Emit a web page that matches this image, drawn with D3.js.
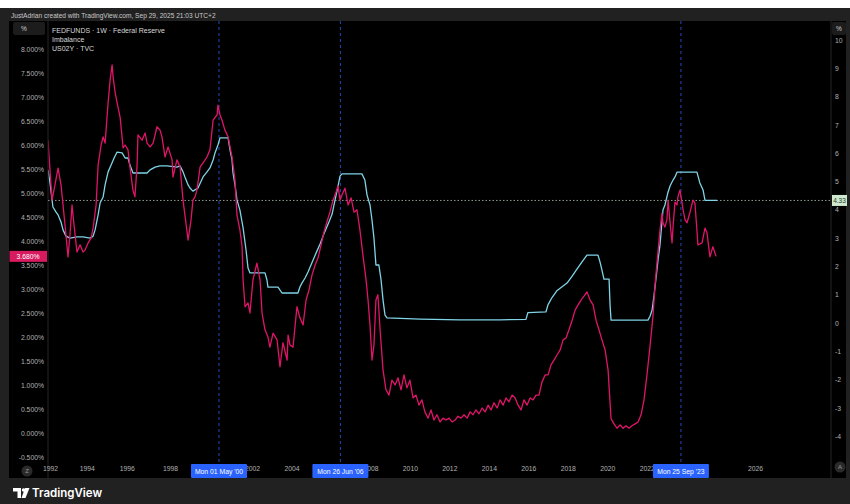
<!DOCTYPE html>
<html><head><meta charset="utf-8">
<script src="https://cdn.jsdelivr.net/npm/d3@7"></script>
<style>body{margin:0;background:#fff;} svg{display:block;font-family:"Liberation Sans",Arial,sans-serif;}</style>
</head><body><svg id="c" width="850" height="504"></svg>
<script>
// ---- data (decimal years, percent) ----
const us02yYears = [1991.89,1992.00,1992.11,1992.27,1992.44,1992.60,1992.71,1992.87,1992.98,1993.09,1993.20,1993.31,1993.47,1993.64,1993.80,1993.91,
1994.07,1994.22,1994.32,1994.47,1994.57,1994.72,1994.82,1994.92,1995.07,1995.17,1995.27,1995.32,1995.42,1995.52,1995.67,1995.82,1995.92,
1996.06,1996.15,1996.29,1996.38,1996.48,1996.52,1996.71,1996.85,1996.94,1997.08,1997.22,1997.40,1997.54,1997.63,1997.77,1997.91,
1998.10,1998.14,1998.33,1998.48,1998.62,1998.71,1998.86,1999.00,1999.09,1999.19,1999.28,1999.43,1999.57,1999.76,1999.90,
2000.05,2000.24,2000.28,2000.38,2000.48,2000.63,2000.79,2000.99,2001.14,2001.24,2001.39,2001.50,2001.55,2001.65,2001.80,2001.90,
2002.05,2002.25,2002.41,2002.51,2002.66,2002.81,2002.91,2003.07,2003.27,2003.42,2003.57,2003.78,2003.83,2003.93,
2004.08,2004.28,2004.43,2004.59,2004.74,2004.89,2005.04,2005.20,2005.35,2005.50,2005.65,2005.80,2005.95,
2006.11,2006.26,2006.36,2006.46,2006.56,2006.71,2006.87,2007.02,2007.17,2007.32,2007.47,2007.62,2007.78,2007.88,2007.98,
2008.08,2008.18,2008.28,2008.38,2008.49,2008.64,2008.79,2008.94,2009.09,2009.25,2009.40,2009.55,2009.70,2009.85,
2010.00,2010.16,2010.31,2010.46,2010.61,2010.76,2010.92,2011.07,2011.22,2011.37,2011.53,2011.68,2011.83,2011.98,
2012.14,2012.29,2012.44,2012.59,2012.74,2012.90,2013.05,2013.20,2013.35,2013.50,2013.66,2013.81,2013.96,
2014.11,2014.26,2014.42,2014.57,2014.72,2014.87,2015.02,2015.18,2015.33,2015.48,2015.63,2015.78,2015.93,
2016.09,2016.24,2016.39,2016.54,2016.69,2016.85,2017.00,2017.15,2017.30,2017.46,2017.61,2017.76,2017.91,
2018.06,2018.22,2018.37,2018.52,2018.67,2018.82,2018.97,2019.13,2019.28,2019.43,2019.58,2019.73,2019.89,
2020.04,2020.19,2020.34,2020.49,2020.65,2020.80,2020.95,2021.10,2021.25,2021.41,2021.56,2021.71,2021.86,
2022.01,2022.17,2022.32,2022.42,2022.52,2022.67,2022.77,2022.82,2022.92,2023.02,2023.08,2023.18,2023.28,2023.33,2023.43,2023.53,2023.58,2023.68,2023.79,2023.84,2023.94,
2024.04,2024.19,2024.34,2024.44,2024.54,2024.59,2024.80,2024.95,2025.05,2025.20,2025.35,2025.51];
const us02yValues = [6.10,5.48,4.85,5.17,5.52,5.17,4.75,4.13,3.67,4.13,4.75,4.33,3.77,3.92,3.77,3.81,
3.96,4.06,4.27,4.75,5.58,6.00,6.17,6.04,6.88,7.35,7.67,7.42,7.10,6.88,6.58,5.94,6.00,
5.90,5.54,5.06,4.92,5.58,6.21,6.10,6.25,6.04,5.96,6.04,6.38,6.31,6.17,5.75,5.96,
5.69,5.33,5.69,5.54,4.85,4.54,4.02,4.44,4.85,4.92,5.06,5.54,5.63,5.75,5.90,
6.52,6.63,6.83,6.63,6.52,6.31,6.17,5.75,5.27,4.54,4.23,3.88,3.19,2.63,2.71,2.50,
3.19,3.54,3.19,2.50,2.15,2.00,1.79,2.08,1.94,1.38,1.88,1.52,2.04,1.83,
1.79,2.63,2.40,2.25,2.77,2.98,3.29,3.50,3.65,3.92,4.19,4.40,4.60,
4.85,5.02,5.15,4.85,4.96,5.10,4.75,4.90,4.60,4.65,4.23,3.71,3.19,2.77,2.25,
1.52,1.83,2.77,2.88,2.15,1.31,0.90,0.79,1.10,1.00,1.15,0.90,1.21,0.94,
1.10,0.73,0.79,0.58,0.69,0.44,0.31,0.48,0.27,0.38,0.23,0.31,0.27,0.31,
0.23,0.27,0.35,0.31,0.38,0.31,0.44,0.38,0.48,0.40,0.52,0.44,0.58,
0.48,0.63,0.52,0.69,0.58,0.73,0.65,0.79,0.73,0.58,0.48,0.69,0.58,
0.73,0.69,0.79,0.79,1.06,1.21,1.21,1.42,1.52,1.63,1.73,1.94,1.98,
2.15,2.35,2.56,2.67,2.77,2.85,2.94,2.77,2.67,2.35,2.15,1.94,1.73,
1.31,0.30,0.19,0.10,0.17,0.10,0.15,0.10,0.15,0.19,0.23,0.38,0.69,
1.21,1.83,2.46,3.08,3.56,4.23,4.58,4.38,4.29,4.44,4.85,4.38,3.96,4.29,4.81,4.75,4.92,5.06,4.79,4.65,4.44,
4.38,4.60,4.85,4.79,4.23,3.92,3.96,4.27,4.17,3.67,3.88,3.68];

const fedYears = [1991.89,1992.00,1992.16,1992.33,1992.44,1992.60,1992.71,1992.87,1993.09,1993.47,1993.80,1994.17,1994.32,1994.42,1994.57,1994.67,1994.82,1994.92,
1995.07,1995.22,1995.37,1995.52,1995.77,1995.92,1996.06,1996.15,1996.29,1996.61,1996.94,1997.08,1997.31,1997.54,1997.86,
1998.33,1998.48,1998.62,1998.71,1998.86,1998.95,1999.09,1999.33,1999.57,1999.76,1999.90,2000.05,2000.14,2000.28,2000.38,2000.79,2000.89,2000.99,
2001.04,2001.14,2001.24,2001.39,2001.55,2001.70,2001.80,2001.90,2002.66,2002.76,2002.81,2003.32,2003.52,2004.33,2004.43,2004.53,2004.69,2004.84,2004.99,
2005.14,2005.29,2005.45,2005.60,2005.75,2005.90,2006.06,2006.21,2006.36,2006.46,2006.56,2007.57,2007.72,2007.83,2007.98,
2008.08,2008.18,2008.28,2008.43,2008.54,2008.64,2008.74,2008.84,2010.52,2012.54,2014.57,2015.88,2015.98,2016.89,2017.00,2017.20,2017.46,2017.96,
2018.22,2018.47,2018.72,2018.97,2019.53,2019.63,2019.73,2019.83,2020.09,2020.14,2020.19,2022.06,2022.17,2022.27,2022.37,2022.47,2022.57,2022.67,2022.82,2022.92,
2023.08,2023.18,2023.33,2023.43,2023.53,2024.54,2024.69,2024.85,2024.95,2025.56];
const fedValues = [5.41,4.95,4.10,3.92,3.82,3.57,3.29,3.07,3.00,3.04,3.04,3.00,3.07,3.29,3.82,4.24,4.45,4.88,
5.34,5.58,5.83,6.04,6.01,5.83,5.83,5.58,5.30,5.30,5.30,5.41,5.51,5.55,5.55,
5.51,5.55,5.34,5.16,4.88,4.77,4.66,4.77,5.16,5.34,5.48,5.76,6.01,6.29,6.54,6.54,6.11,5.76,
5.30,4.88,4.35,3.99,3.36,2.58,1.94,1.77,1.77,1.52,1.27,1.27,1.06,1.06,1.27,1.41,1.59,1.80,2.05,
2.30,2.54,2.79,3.07,3.32,3.57,3.85,4.35,4.84,5.19,5.27,5.27,5.05,4.52,4.17,
3.64,3.00,2.05,2.05,1.52,0.81,0.28,0.18,0.14,0.11,0.11,0.13,0.37,0.39,0.65,0.90,1.15,1.41,
1.66,1.91,2.16,2.40,2.40,2.16,1.87,1.55,1.55,0.64,0.10,0.10,0.25,0.46,0.99,1.59,2.23,2.76,3.99,4.17,
4.63,4.84,5.05,5.16,5.33,5.33,4.95,4.70,4.33,4.33];

const leftTicks = [-0.5,0,0.5,1,1.5,2,2.5,3,3.5,4,4.5,5,5.5,6,6.5,7,7.5,8];
const rightTicks = [-4,-3,-2,-1,0,1,2,3,4,5,6,7,8,9,10];
// years whose labels are not hidden behind the crosshair date boxes
const xTickYears = [1992,1994,1996,1998,2002,2004,2008,2010,2012,2014,2016,2018,2020,2022,2026];
const crosshairYears = [2000.33, 2006.48, 2023.73];
const crosshairLabels = ["Mon 01 May '00", "Mon 26 Jun '06", "Mon 25 Sep '23"];
const legendLines = ["FEDFUNDS · 1W · Federal Reserve", "Imbalance", "US02Y · TVC"];
const lastFed = 4.33, lastUs02y = 3.68;

// ---- layout ----
const svg = d3.select("#c");
const PL = 48, PR = 831, PT = 21, PB = 462;
const x = d3.scaleLinear()
  .domain([1992, 1994, 1996, 1998, 2000.33, 2025.75, 2026, 2027])
  .range([50, 86.7, 126.7, 170, 219, 720.8, 755, 831]);
const yL = d3.scaleLinear().domain([0, 8]).range([433, 49]);
const yR = d3.scaleLinear().domain([0, 10]).range([323, 40]);

// frame
svg.append("rect").attr("x",0).attr("y",8).attr("width",850).attr("height",496).attr("fill","#212121");
svg.append("text").attr("x",11).attr("y",17.5).attr("fill","#c9c9c9").attr("font-size",6.6)
  .text("JustAdrian created with TradingView.com, Sep 29, 2025 21:03 UTC+2");
svg.append("rect").attr("x",9).attr("y",21).attr("width",837).attr("height",457).attr("fill","#000");

// separators
svg.append("line").attr("x1",PL).attr("x2",PL).attr("y1",PT).attr("y2",478).attr("stroke","#262626");
svg.append("line").attr("x1",PR).attr("x2",PR).attr("y1",PT).attr("y2",478).attr("stroke","#262626");

const defs = svg.append("defs");
defs.append("clipPath").attr("id","plot").append("rect")
  .attr("x",PL+0.5).attr("y",PT).attr("width",PR-PL-1).attr("height",PB-PT);

// crosshair lines
svg.append("g").selectAll("line").data(crosshairYears).join("line")
  .attr("x1",d=>x(d)).attr("x2",d=>x(d)).attr("y1",PT).attr("y2",PB+2)
  .attr("stroke","#2449b8").attr("stroke-width",1).attr("stroke-dasharray","3,3");

// price line for FEDFUNDS
svg.append("line").attr("x1",PL).attr("x2",PR).attr("y1",yR(lastFed)).attr("y2",yR(lastFed))
  .attr("stroke","#8c9a8c").attr("stroke-width",1).attr("stroke-dasharray","1.5,2");

const plot = svg.append("g").attr("clip-path","url(#plot)");
const fedData = fedYears.map((t,i)=>[t, fedValues[i]]);
const usData = us02yYears.map((t,i)=>[t, us02yValues[i]]);
plot.append("path").datum(fedData)
  .attr("d", d3.line().x(d=>x(d[0])).y(d=>yR(d[1])))
  .attr("fill","none").attr("stroke","#7fd4e6").attr("stroke-width",1.3).attr("stroke-linejoin","round");
plot.append("path").datum(usData)
  .attr("d", d3.line().x(d=>x(d[0])).y(d=>yL(d[1])))
  .attr("fill","none").attr("stroke","#e0156a").attr("stroke-width",1.3).attr("stroke-linejoin","round");

// legend
svg.append("g").selectAll("text").data(legendLines).join("text")
  .attr("x",52).attr("y",(d,i)=>33+i*9).attr("fill","#d8d8d8").attr("font-size",7).text(d=>d);

// left axis
const gL = svg.append("g").attr("transform",`translate(44,0)`)
  .call(d3.axisLeft(yL).tickValues(leftTicks).tickSize(0).tickPadding(0)
    .tickFormat(d=>d3.format(".3f")(d).replace("−","-")+"%"));
gL.select(".domain").remove();
gL.selectAll("text").attr("fill","#b2b2b2").attr("font-size",6.8).attr("font-family","Liberation Sans, Arial, sans-serif");

// right axis
const gR = svg.append("g").attr("transform",`translate(835,0)`)
  .call(d3.axisRight(yR).tickValues(rightTicks).tickSize(0).tickPadding(0).tickFormat(d=>String(d).replace("−","-")));
gR.select(".domain").remove();
gR.selectAll("text").attr("fill","#b2b2b2").attr("font-size",6.8).attr("font-family","Liberation Sans, Arial, sans-serif");

// bottom axis
const gB = svg.append("g").attr("transform",`translate(0,466)`)
  .call(d3.axisBottom(x).tickValues(xTickYears).tickSize(0).tickPadding(0).tickFormat(d3.format("d")));
gB.select(".domain").remove();
gB.selectAll("text").attr("fill","#b2b2b2").attr("font-size",6.8).attr("font-family","Liberation Sans, Arial, sans-serif");

// % boxes
[[13,22,32],[832,22,14]].forEach(([bx,by,bw])=>{
  svg.append("rect").attr("x",bx).attr("y",by).attr("width",bw).attr("height",13).attr("rx",2).attr("fill","#1c1c1c");
  svg.append("text").attr("x",bx+ (bw>20?8:bw/2)).attr("y",by+9).attr("text-anchor",bw>20?"start":"middle")
    .attr("fill","#d0d0d0").attr("font-size",6.5).text("%");
});

// last value labels
svg.append("rect").attr("x",9.5).attr("y",yL(lastUs02y)-5.5).attr("width",37.5).attr("height",11).attr("fill","#d81b60");
svg.append("text").attr("x",28).attr("y",yL(lastUs02y)+2.5).attr("text-anchor","middle").attr("fill","#fff")
  .attr("font-size",6.8).text(d3.format(".3f")(lastUs02y)+"%");
svg.append("rect").attr("x",832).attr("y",yR(lastFed)-5.5).attr("width",15).attr("height",11).attr("fill","#cfe8cf");
svg.append("text").attr("x",839.5).attr("y",yR(lastFed)+2.5).attr("text-anchor","middle").attr("fill","#1d3b1d")
  .attr("font-size",6.5).text(lastFed.toFixed(2));

// crosshair labels
crosshairYears.forEach((t,i)=>{
  const cx = x(t);
  svg.append("rect").attr("x",cx-28).attr("y",464).attr("width",56).attr("height",14).attr("rx",1).attr("fill","#2962ff");
  svg.append("text").attr("x",cx).attr("y",473.5).attr("text-anchor","middle").attr("fill","#fff")
    .attr("font-size",6.8).text(crosshairLabels[i]);
});

// corner buttons
[[27,471,"Z"],[840,467,"A"]].forEach(([cx,cy,t])=>{
  svg.append("circle").attr("cx",cx).attr("cy",cy).attr("r",5.5).attr("fill","#2a2a2a");
  svg.append("text").attr("x",cx).attr("y",cy+2.3).attr("text-anchor","middle").attr("fill","#9a9a9a").attr("font-size",6).text(t);
});

// footer logo
const lg = svg.append("g").attr("fill","#ffffff");
lg.append("path").attr("d","M13 488 H21 V498 H17.5 V491.5 H13 Z");
lg.append("circle").attr("cx",23.5).attr("cy",490).attr("r",1.7);
lg.append("path").attr("d","M25 488 H29.5 L25.5 498 H21.5 Z");
svg.append("text").attr("x",32).attr("y",497).attr("fill","#ffffff").attr("font-size",11.5)
  .attr("font-weight","600").attr("font-family","Inter, Liberation Sans, Arial, sans-serif").text("TradingView");
</script></body></html>
